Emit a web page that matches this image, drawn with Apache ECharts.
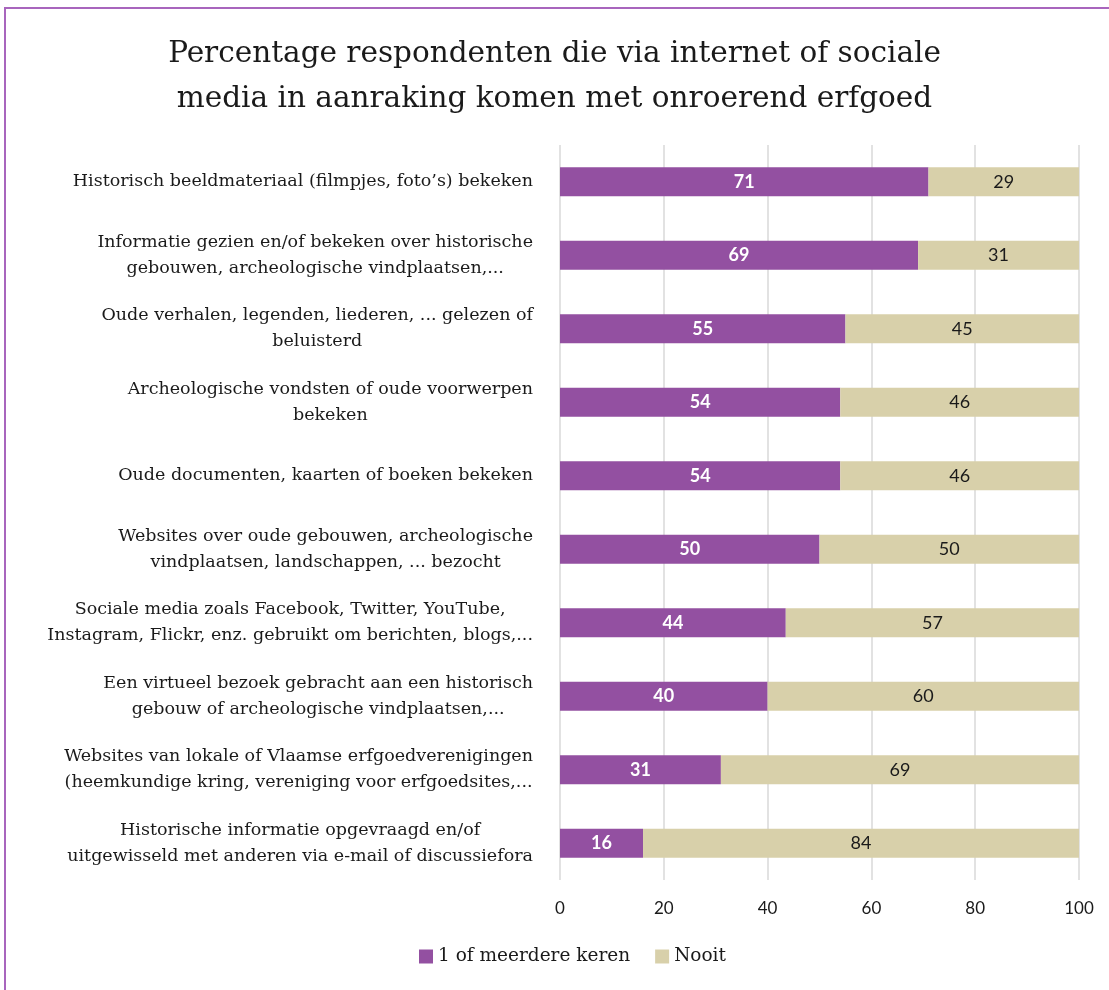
<!DOCTYPE html>
<html>
<head>
<meta charset="utf-8">
<script src="https://cdn.jsdelivr.net/npm/echarts@6/dist/echarts.min.js"></script>
<style>html,body{margin:0;padding:0;background:#fff}#c{width:1109px;height:990px}</style>
</head>
<body>
<div id="c"></div>
<script>
var titleText = 'Percentage respondenten die via internet of sociale\nmedia in aanraking komen met onroerend erfgoed';
var categories = [
  'Historisch beeldmateriaal (filmpjes, foto\u2019s) bekeken',
  'Informatie gezien en/of bekeken over historische\ngebouwen, archeologische vindplaatsen,...',
  'Oude verhalen, legenden, liederen, ... gelezen of\nbeluisterd',
  'Archeologische vondsten of oude voorwerpen\nbekeken',
  'Oude documenten, kaarten of boeken bekeken',
  'Websites over oude gebouwen, archeologische\nvindplaatsen, landschappen, ... bezocht',
  'Sociale media zoals Facebook, Twitter, YouTube,\nInstagram, Flickr, enz. gebruikt om berichten, blogs,...',
  'Een virtueel bezoek gebracht aan een historisch\ngebouw of archeologische vindplaatsen,...',
  'Websites van lokale of Vlaamse erfgoedverenigingen\n(heemkundige kring, vereniging voor erfgoedsites,...',
  'Historische informatie opgevraagd en/of\nuitgewisseld met anderen via e-mail of discussiefora'
];
var seriesNames = ['1 of meerdere keren', 'Nooit'];
var valuesOnce = [71, 69, 55, 54, 54, 50, 43.5, 40, 31, 16];
var valuesNever = [29, 31, 45, 46, 46, 50, 56.5, 60, 69, 84];
var xTicks = [0, 20, 40, 60, 80, 100];

var serif = '"DejaVu Serif", serif';
var sans = 'Lato, "Open Sans", sans-serif';

var chart = echarts.init(document.getElementById('c'), null, {renderer: 'canvas'});
chart.setOption({
  backgroundColor: '#ffffff',
  animation: false,
  title: {
    text: titleText,
    left: 'center',
    top: 27,
    textStyle: {fontFamily: serif, fontSize: 29.5, fontWeight: 'normal', color: '#1a1a1a', lineHeight: 45}
  },
  graphic: [{
    type: 'rect',
    shape: {x: 5, y: 8, width: 1120, height: 1000},
    style: {fill: 'none', stroke: '#a865bd', lineWidth: 2},
    silent: true
  }],
  legend: {
    data: seriesNames,
    bottom: 19,
    left: 414,
    itemWidth: 14,
    itemHeight: 14,
    itemGap: 25,
    icon: 'rect',
    textStyle: {fontFamily: serif, fontSize: 18.5, color: '#1a1a1a'}
  },
  grid: {left: 560, right: 30, top: 145, bottom: 110, containLabel: false},
  xAxis: {
    type: 'value',
    min: xTicks[0],
    max: xTicks[xTicks.length - 1],
    interval: 20,
    axisLine: {show: false},
    axisTick: {show: false},
    splitLine: {show: true, lineStyle: {color: '#d9d9d9', width: 1.5}},
    axisLabel: {fontFamily: sans, fontSize: 17, color: '#1a1a1a', margin: 20}
  },
  yAxis: {
    type: 'category',
    data: categories,
    inverse: true,
    axisLine: {show: false},
    axisTick: {show: false},
    axisLabel: {
      margin: 27,
      align: 'right',
      formatter: function (v) {
        return v.split('\n').map(function (l) { return '{c|' + l + '}'; }).join('\n');
      },
      rich: {
        c: {align: 'center', fontFamily: serif, fontSize: 17.5, color: '#1a1a1a', lineHeight: 26}
      }
    }
  },
  series: [
    {
      name: seriesNames[0],
      type: 'bar',
      stack: 'total',
      barWidth: 29,
      data: valuesOnce,
      itemStyle: {color: '#9350a1'},
      label: {
        show: true,
        position: 'inside',
        color: '#ffffff',
        fontFamily: sans,
        fontWeight: 'bold',
        fontSize: 18,
        formatter: function (p) { return Math.round(p.value); }
      }
    },
    {
      name: seriesNames[1],
      type: 'bar',
      stack: 'total',
      barWidth: 29,
      data: valuesNever,
      itemStyle: {color: '#d8d0aa'},
      label: {
        show: true,
        position: 'inside',
        color: '#1a1a1a',
        fontFamily: sans,
        fontSize: 18,
        formatter: function (p) { return Math.round(p.value); }
      }
    }
  ]
});
</script>
</body>
</html>
